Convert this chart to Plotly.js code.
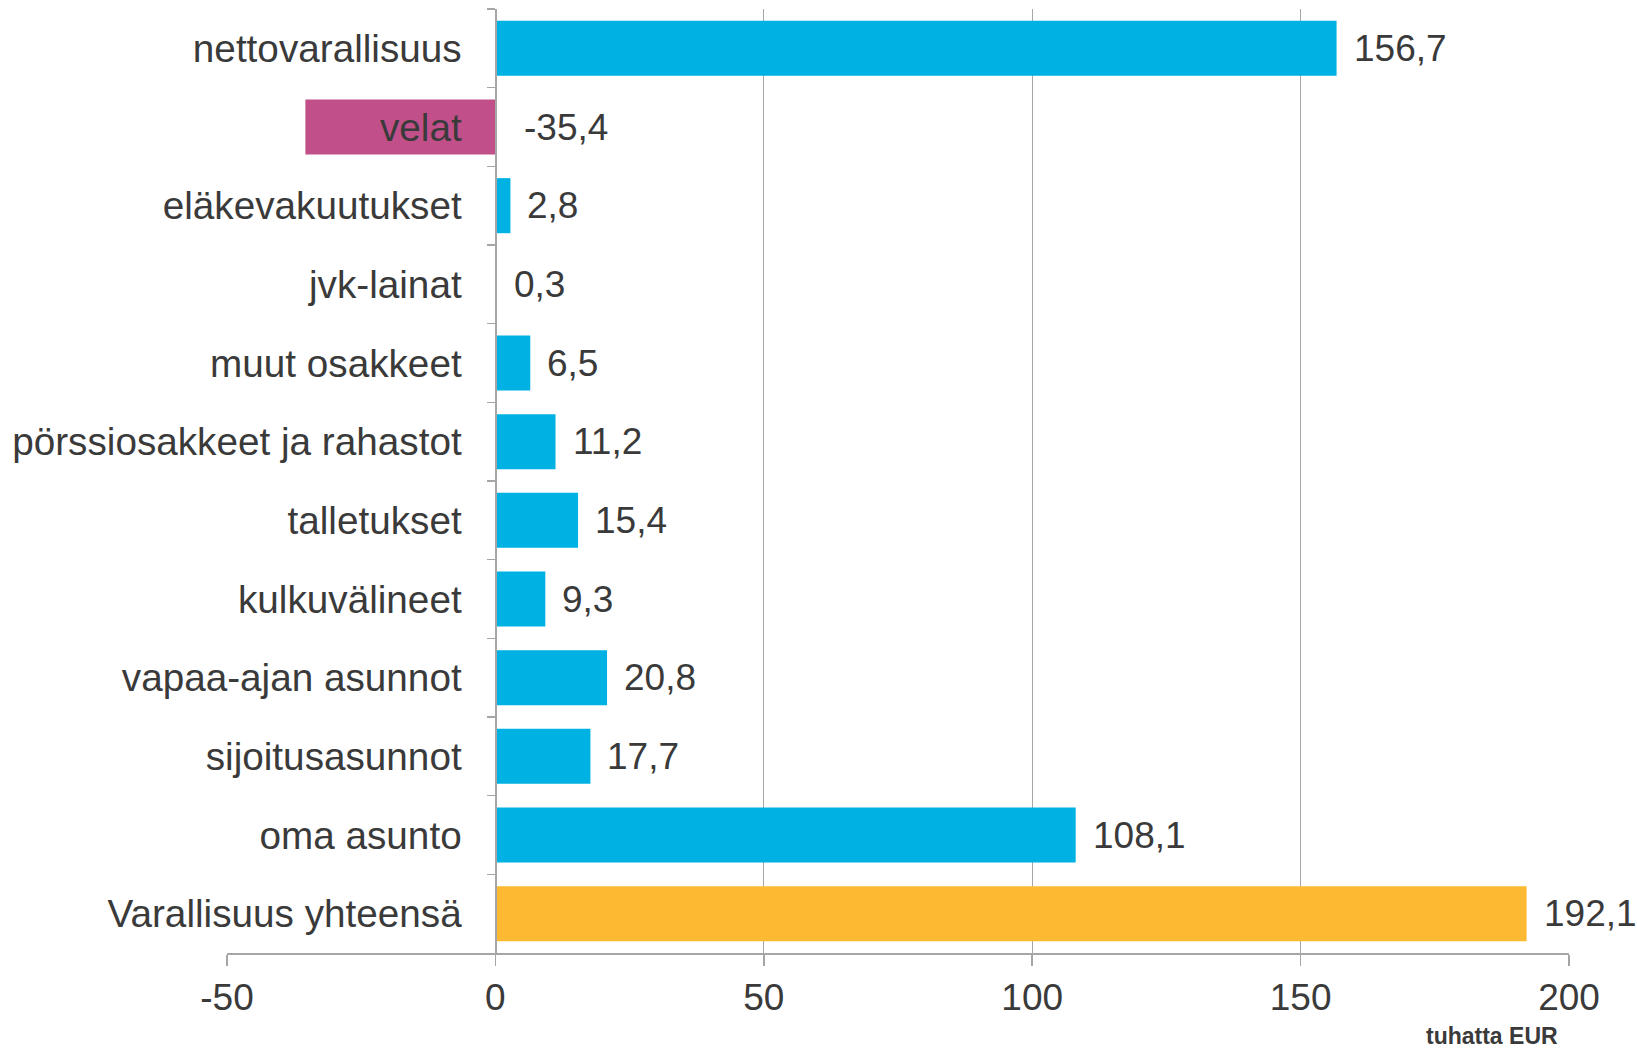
<!DOCTYPE html>
<html>
<head>
<meta charset="utf-8">
<script src="https://cdn.plot.ly/plotly-3.0.1.min.js"></script>
<style>html,body{margin:0;padding:0;background:#fff;}#chart{width:1637px;height:1050px;}</style>
</head>
<body>
<div id="chart"></div>
<script>
const categories = ["nettovarallisuus","velat","eläkevakuutukset","jvk-lainat","muut osakkeet","pörssiosakkeet ja rahastot","talletukset","kulkuvälineet","vapaa-ajan asunnot","sijoitusasunnot","oma asunto","Varallisuus yhteensä"];
const values = [156.7, -35.4, 2.8, 0.3, 6.5, 11.2, 15.4, 9.3, 20.8, 17.7, 108.1, 192.1];
const xTickVals = [-50, 0, 50, 100, 150, 200];
const xTickText = ["-50", "0", "50", "100", "150", "200"];
const unitLabel = "tuhatta EUR";

const BLUE = "#00B2E3", PINK = "#C1508A", ORANGE = "#FDB931";
const TEXT = "#3a3a3a";
const colors = categories.map((c, i) => i === categories.length - 1 ? ORANGE : (values[i] < 0 ? PINK : BLUE));

const trace = {
  type: "bar",
  orientation: "h",
  y: categories,
  x: values,
  marker: {color: colors},
  hoverinfo: "skip",
  cliponaxis: false
};

const annotations = values.map((v, i) => ({
  xref: "x", yref: "y",
  x: Math.max(v, 0), y: categories[i],
  text: v.toFixed(1).replace(".", ","),
  showarrow: false,
  xanchor: "left", yanchor: "middle",
  xshift: v < 0 ? 27 : 15,
  font: {family: "Liberation Sans, Arial, sans-serif", size: 37, color: TEXT}
}));
annotations.push({
  xref: "paper", yref: "paper",
  x: 0.9935, y: -0.088,
  xanchor: "right", yanchor: "middle",
  text: "<b>" + unitLabel + "</b>",
  showarrow: false,
  font: {family: "Liberation Sans, Arial, sans-serif", size: 23, color: TEXT}
});

const layout = {
  width: 1637, height: 1050,
  margin: {l: 227, r: 68, t: 9, b: 97, pad: 0},
  paper_bgcolor: "#fff", plot_bgcolor: "#fff",
  showlegend: false,
  bargap: 0.3,
  font: {family: "Liberation Sans, Arial, sans-serif", color: TEXT},
  xaxis: {
    range: [-50, 200],
    tickmode: "array", tickvals: xTickVals, ticktext: xTickText,
    showgrid: true, gridcolor: "#a6a6a6", gridwidth: 1,
    zeroline: false,
    showline: true, linecolor: "#a6a6a6", linewidth: 1.5,
    ticks: "outside", ticklen: 11, tickcolor: "#a6a6a6", tickwidth: 1.5,
    tickfont: {size: 37, color: TEXT},
    fixedrange: true
  },
  yaxis: {
    type: "category",
    autorange: "reversed",
    anchor: "free", position: 0.2,
    showgrid: false, zeroline: false,
    showline: true, linecolor: "#a6a6a6", linewidth: 1.5,
    ticks: "outside", ticklen: 8, tickcolor: "#a6a6a6", tickwidth: 1.5,
    tickson: "boundaries",
    ticklabelstandoff: 26,
    tickfont: {size: 38.7, color: TEXT},
    fixedrange: true
  },
  annotations: annotations
};

Plotly.newPlot("chart", [trace], layout, {displayModeBar: false, staticPlot: true});
</script>
</body>
</html>
